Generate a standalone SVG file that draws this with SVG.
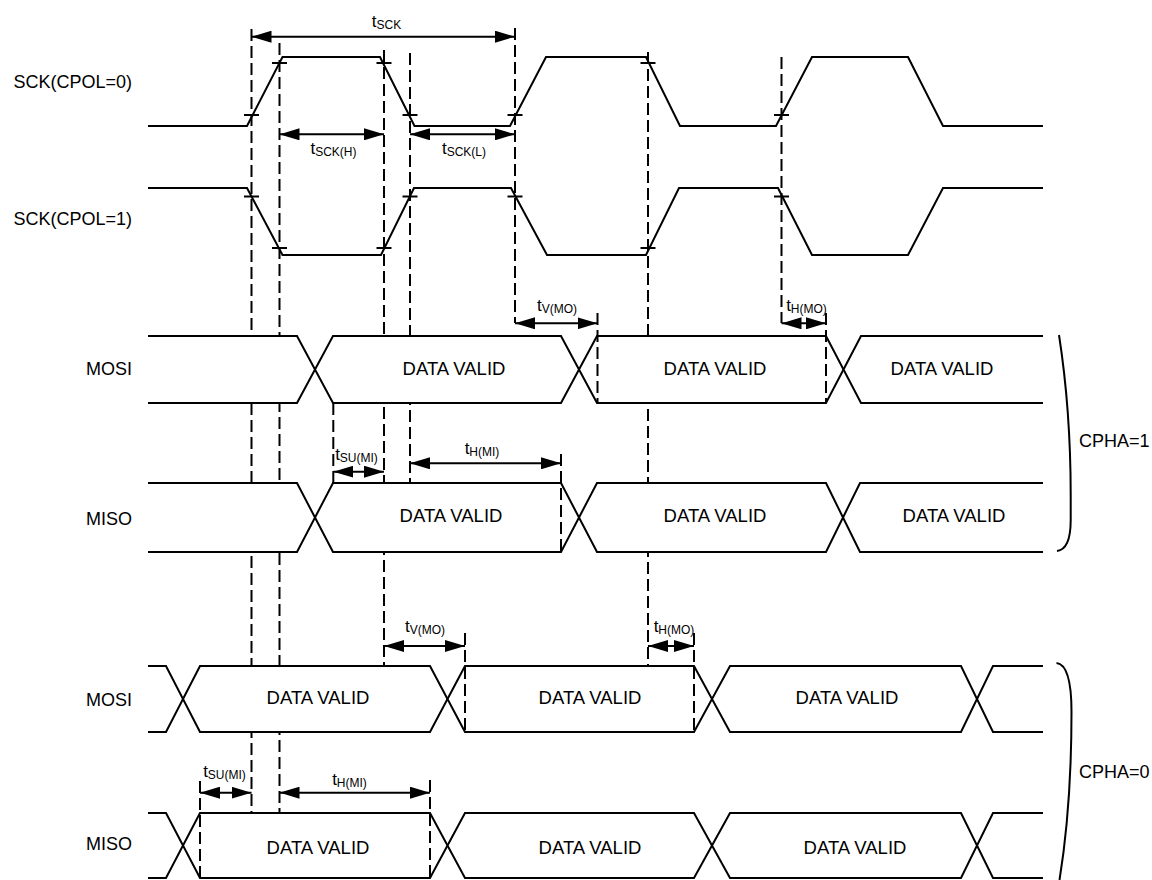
<svg xmlns="http://www.w3.org/2000/svg" width="1152" height="880" viewBox="0 0 1152 880">
<style>
.w{fill:none;stroke:#000;stroke-width:2;stroke-linejoin:miter}
.b{fill:#fff;stroke:#000;stroke-width:2}
.d{stroke:#000;stroke-width:2;stroke-dasharray:12 5;fill:none}
.tk{stroke:#000;stroke-width:2}
.a{stroke:#000;stroke-width:2;marker-start:url(#ah);marker-end:url(#ah)}
text{font-family:"Liberation Sans",Arial,sans-serif;fill:#000}
.lb{font-size:18px;text-anchor:end}
.dv{font-size:18.5px;text-anchor:middle}
.tl{text-anchor:middle;font-size:17px}
.cp{font-size:18px}
</style>
<defs>
<marker id="ah" markerWidth="20" markerHeight="12" refX="20" refY="6" orient="auto-start-reverse" markerUnits="userSpaceOnUse"><path d="M0,0 L20,6 L0,12 Z" fill="#000"/></marker>
</defs>
<rect width="1152" height="880" fill="#fff"/>

<g id="guides">
<line class="d" x1="251.5" y1="29" x2="251.5" y2="813"/>
<line class="d" x1="279.5" y1="43" x2="279.5" y2="813"/>
<line class="d" x1="384" y1="50" x2="384" y2="666"/>
<line class="d" x1="410" y1="53" x2="410" y2="483"/>
<line class="d" x1="515" y1="28" x2="515" y2="323"/>
<line class="d" x1="648" y1="52" x2="648" y2="666"/>
<line class="d" x1="781.5" y1="57" x2="781.5" y2="323"/>
<line class="d" x1="333.3" y1="403" x2="333.3" y2="483"/>
</g>

<g id="sck-cpol0">
<text class="lb" x="132" y="88">SCK(CPOL=0)</text>
<path class="w" d="M148,126 L247,126 L282.5,57 L380,57 L414.5,126 L510,126 L546,57 L646,57 L680,126 L776,126 L812,57 L908,57 L943,126 L1043,126"/>
<g class="tk">
<line x1="244" y1="115" x2="259" y2="115"/>
<line x1="272" y1="63" x2="287" y2="63"/>
<line x1="376.5" y1="63" x2="391.5" y2="63"/>
<line x1="402.5" y1="115" x2="417.5" y2="115"/>
<line x1="507.5" y1="115" x2="522.5" y2="115"/>
<line x1="640.5" y1="63" x2="655.5" y2="63"/>
<line x1="774" y1="115" x2="789" y2="115"/>
</g>
</g>

<g id="sck-cpol1">
<text class="lb" x="132" y="225">SCK(CPOL=1)</text>
<path class="w" d="M148,188 L247,188 L282.5,255 L381,255 L414,188 L511,188 L547,255 L646,255 L679,188 L778,188 L812,255 L908,255 L943,188 L1043,188"/>
<g class="tk">
<line x1="244" y1="196.5" x2="259" y2="196.5"/>
<line x1="272" y1="248" x2="287" y2="248"/>
<line x1="376.5" y1="248" x2="391.5" y2="248"/>
<line x1="402.5" y1="196.5" x2="417.5" y2="196.5"/>
<line x1="507.5" y1="196.5" x2="522.5" y2="196.5"/>
<line x1="640.5" y1="248" x2="655.5" y2="248"/>
<line x1="774" y1="196.5" x2="789" y2="196.5"/>
</g>
</g>

<g id="mosi-cpha1">
<text class="lb" x="132" y="374.5">MOSI</text>
<path class="b" d="M148,336 L297,336 L315,369.5 L297,403 L148,403"/>
<path class="b" d="M315,369.5 L333,336 L561,336 L579,369.5 L561,403 L333,403 Z"/>
<path class="b" d="M579,369.5 L597,336 L826,336 L843.5,369.5 L826,403 L597,403 Z"/>
<path class="b" d="M1043,336 L861,336 L843.5,369.5 L861,403 L1043,403"/>
<text class="dv" x="454" y="374.5">DATA VALID</text>
<text class="dv" x="715" y="374.5">DATA VALID</text>
<text class="dv" x="942" y="374.5">DATA VALID</text>
</g>

<g id="miso-cpha1">
<text class="lb" x="132" y="525">MISO</text>
<path class="b" d="M148,483 L297,483 L315,517.5 L297,552 L148,552"/>
<path class="b" d="M315,517.5 L333,483 L561,483 L579,517.5 L561,552 L333,552 Z"/>
<path class="b" d="M579,517.5 L597,483 L826,483 L843,517.5 L826,552 L597,552 Z"/>
<path class="b" d="M1043,483 L860,483 L843,517.5 L860,552 L1043,552"/>
<text class="dv" x="451" y="522">DATA VALID</text>
<text class="dv" x="715" y="522">DATA VALID</text>
<text class="dv" x="954" y="522">DATA VALID</text>
</g>

<g id="mosi-cpha0">
<text class="lb" x="132" y="706">MOSI</text>
<path class="b" d="M148,666 L166,666 L183,699 L166,732 L148,732"/>
<path class="b" d="M183,699 L200,666 L430,666 L447.5,699 L430,732 L200,732 Z"/>
<path class="b" d="M447.5,699 L465,666 L694,666 L712,699 L694,732 L465,732 Z"/>
<path class="b" d="M712,699 L730,666 L961,666 L977,699 L961,732 L730,732 Z"/>
<path class="b" d="M1043,666 L993,666 L977,699 L993,732 L1043,732"/>
<text class="dv" x="318" y="704">DATA VALID</text>
<text class="dv" x="590" y="704">DATA VALID</text>
<text class="dv" x="847" y="704">DATA VALID</text>
</g>

<g id="miso-cpha0">
<text class="lb" x="132" y="850">MISO</text>
<path class="b" d="M148,813 L166,813 L183,845.5 L166,878 L148,878"/>
<path class="b" d="M183,845.5 L200,813 L430,813 L447.5,845.5 L430,878 L200,878 Z"/>
<path class="b" d="M447.5,845.5 L465,813 L694,813 L712,845.5 L694,878 L465,878 Z"/>
<path class="b" d="M712,845.5 L730,813 L961,813 L977,845.5 L961,878 L730,878 Z"/>
<path class="b" d="M1043,813 L993,813 L977,845.5 L993,878 L1043,878"/>
<text class="dv" x="318" y="853.5">DATA VALID</text>
<text class="dv" x="590" y="853.5">DATA VALID</text>
<text class="dv" x="855" y="853.5">DATA VALID</text>
</g>

<g id="cpha1-brace">
<path class="w" d="M1059,335 C1066,380 1070.7,430 1070.7,495 L1070.7,520 C1070.7,543 1065,550 1057,551"/>
<text class="cp" x="1079" y="447">CPHA=1</text>
</g>
<g id="cpha0-brace">
<path class="w" d="M1056.5,663 C1066,664 1071.5,680 1071.5,712 C1071.5,780 1066,840 1059.5,880"/>
<text class="cp" x="1079" y="778">CPHA=0</text>
</g>

<g id="timing">
<line class="d" x1="597.5" y1="313" x2="597.5" y2="403"/>
<line class="d" x1="826" y1="313" x2="826" y2="403"/>
<line class="d" x1="561" y1="454" x2="561" y2="552"/>
<line class="d" x1="465" y1="633" x2="465" y2="732"/>
<line class="d" x1="694" y1="633" x2="694" y2="732"/>
<line class="d" x1="200" y1="781" x2="200" y2="878"/>
<line class="d" x1="430" y1="780" x2="430" y2="878"/>

<line class="a" x1="251.5" y1="36.7" x2="515" y2="36.7"/>
<line class="a" x1="279.5" y1="134.3" x2="384" y2="134.3"/>
<line class="a" x1="410" y1="134.3" x2="515" y2="134.3"/>
<line class="a" x1="515" y1="323.3" x2="597.5" y2="323.3"/>
<line class="a" x1="781.5" y1="323.3" x2="826" y2="323.3"/>
<line class="a" x1="333.3" y1="471.7" x2="384" y2="471.7"/>
<line class="a" x1="410" y1="463.3" x2="561" y2="463.3"/>
<line class="a" x1="384" y1="646" x2="465" y2="646"/>
<line class="a" x1="648" y1="646" x2="694" y2="646"/>
<line class="a" x1="200" y1="792.7" x2="251.5" y2="792.7"/>
<line class="a" x1="279.5" y1="792.7" x2="430" y2="792.7"/>

<text class="tl" x="386.5" y="27">t<tspan font-size="12" dy="2">SCK</tspan></text>
<text class="tl" x="333.5" y="154">t<tspan font-size="12" dy="2">SCK(H)</tspan></text>
<text class="tl" x="464" y="154">t<tspan font-size="12" dy="2">SCK(L)</tspan></text>
<text class="tl" x="557" y="311">t<tspan font-size="12" dy="2">V(MO)</tspan></text>
<text class="tl" x="806.5" y="311">t<tspan font-size="12" dy="2">H(MO)</tspan></text>
<text class="tl" x="356.5" y="460">t<tspan font-size="12" dy="2">SU(MI)</tspan></text>
<text class="tl" x="482" y="454">t<tspan font-size="12" dy="2">H(MI)</tspan></text>
<text class="tl" x="425" y="631.5">t<tspan font-size="12" dy="2">V(MO)</tspan></text>
<text class="tl" x="674" y="632">t<tspan font-size="12" dy="2">H(MO)</tspan></text>
<text class="tl" x="224.5" y="776.5">t<tspan font-size="12" dy="2">SU(MI)</tspan></text>
<text class="tl" x="349.5" y="785">t<tspan font-size="12" dy="2">H(MI)</tspan></text>
</g>
</svg>
